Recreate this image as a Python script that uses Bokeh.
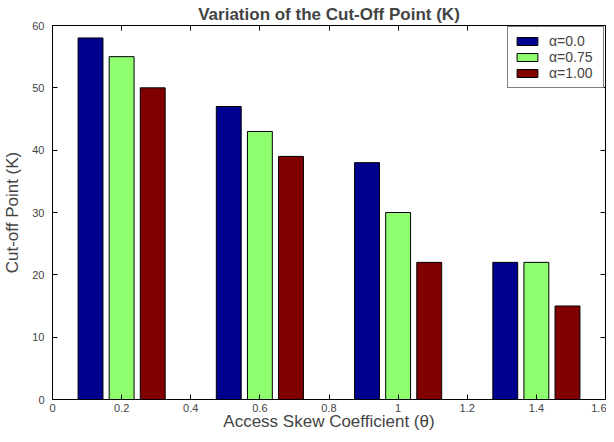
from bokeh.plotting import figure
from bokeh.models import LinearAxis, Legend, LegendItem, FixedTicker, Range1d
from bokeh.embed import file_html
from bokeh.resources import INLINE

# data
theta = [0.2, 0.6, 1.0, 1.4]
series_names = ["α=0.0", "α=0.75", "α=1.00"]
alpha_00 = [58, 47, 38, 22]
alpha_075 = [55, 43, 30, 22]
alpha_100 = [50, 39, 22, 15]
offsets = [-0.09, 0.0, 0.09]
colors = ["#00008F", "#8FFF70", "#800000"]
x_ticks = [0, 0.2, 0.4, 0.6, 0.8, 1.0, 1.2, 1.4, 1.6]
x_tick_labels = ["0", "0.2", "0.4", "0.6", "0.8", "1", "1.2", "1.4", "1.6"]
y_ticks = [0, 10, 20, 30, 40, 50, 60]

FONT = "Liberation Sans"

p = figure(frame_width=553, frame_height=374, output_backend="svg", toolbar_location=None,
           x_range=Range1d(0, 1.6), y_range=Range1d(0, 60),
           min_border_left=44, min_border_right=1, min_border_top=0, min_border_bottom=0)
p.title.text = "Variation of the Cut-Off Point (K)"
p.title.text_font = FONT
p.title.text_font_size = "17px"
p.title.text_font_style = "bold"
p.title.align = "center"
p.title.standoff = 4
p.title.offset = 0

p.xgrid.visible = False
p.ygrid.visible = False
p.outline_line_color = "black"
p.outline_line_width = 1

renderers = []
for vals, off, col in zip([alpha_00, alpha_075, alpha_100], offsets, colors):
    xs = [t + off for t in theta]
    r = p.vbar(x=xs, top=vals, width=0.072, bottom=0, fill_color=col, line_color="black", line_width=1)
    renderers.append(r)

for ax in [p.xaxis[0], p.yaxis[0]]:
    ax.major_tick_in = 5
    ax.major_tick_out = 0
    ax.minor_tick_in = 0
    ax.minor_tick_out = 0
    ax.major_label_text_font = FONT
    ax.major_label_text_font_size = "11px"
    ax.axis_label_text_font = FONT
    ax.axis_label_text_font_size = "17px"
    ax.axis_label_text_font_style = "normal"
    ax.axis_line_color = "black"
    ax.axis_line_width = 1

p.xaxis[0].ticker = FixedTicker(ticks=x_ticks)
p.xaxis[0].major_label_overrides = {t: l for t, l in zip(x_ticks, x_tick_labels)}
p.xaxis[0].axis_label = "Access Skew Coefficient (θ)"
p.xaxis[0].major_label_standoff = 4
p.xaxis[0].axis_label_standoff = -3
p.yaxis[0].ticker = FixedTicker(ticks=y_ticks)
p.yaxis[0].axis_label = "Cut-off Point (K)"
p.yaxis[0].major_label_standoff = 8
p.yaxis[0].axis_label_standoff = 7

top_ax = LinearAxis(ticker=FixedTicker(ticks=x_ticks), major_tick_in=5, major_tick_out=0,
                    minor_tick_in=0, minor_tick_out=0, major_label_standoff=0,
                    major_label_overrides={t: "" for t in x_ticks})
right_ax = LinearAxis(ticker=FixedTicker(ticks=y_ticks), major_tick_in=5, major_tick_out=0,
                      minor_tick_in=0, minor_tick_out=0, major_label_standoff=0,
                      major_label_overrides={t: "" for t in y_ticks})
p.add_layout(top_ax, "above")
p.add_layout(right_ax, "right")

legend = Legend(items=[LegendItem(label=n, renderers=[r]) for n, r in zip(series_names, renderers)],
                location="top_right")
legend.label_text_font = FONT
legend.label_text_font_size = "14px"
legend.border_line_color = "black"
legend.border_line_width = 1
legend.glyph_width = 26
legend.glyph_height = 10
legend.label_height = 15
legend.label_width = 48
legend.spacing = 0
legend.padding = 6
legend.margin = 1
legend.label_standoff = 9
p.add_layout(legend, "center")

open("out.html", "w").write(file_html(p, INLINE))
